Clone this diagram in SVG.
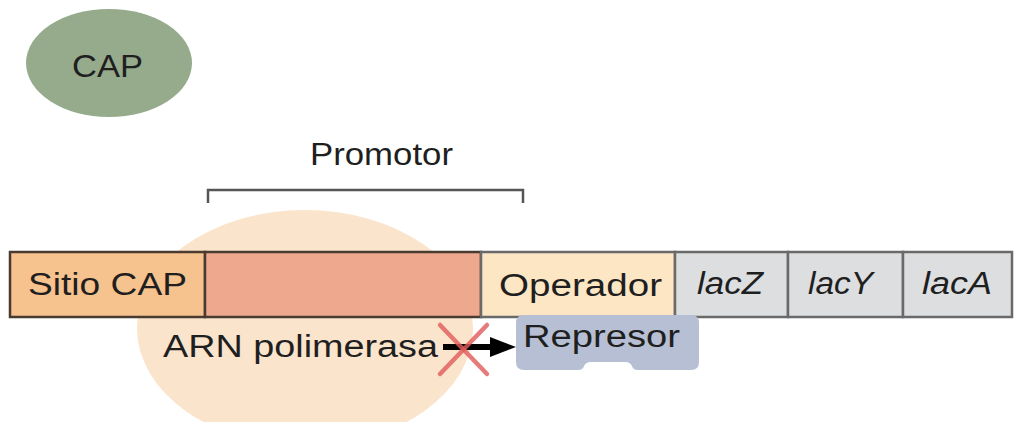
<svg xmlns="http://www.w3.org/2000/svg" width="1014" height="422" viewBox="0 0 1014 422">
<style>
text{font-family:"Liberation Sans",Arial,sans-serif;fill:#1f1f1f;font-size:31px}
.it{font-style:italic}
.seg{stroke-width:2.5}
.left{stroke:#4a3b30}
.right{stroke:#6a6a6a}
</style>
<rect width="1014" height="422" fill="#fff"/>
<g id="cap">
<ellipse cx="109" cy="63" rx="83" ry="54" fill="#95ab8c"/>
<text x="72" y="77" font-size="35" fill="#1c261c" textLength="71" lengthAdjust="spacingAndGlyphs">CAP</text>
</g>
<g id="promotor">
<text x="310" y="165" font-size="29" textLength="143" lengthAdjust="spacingAndGlyphs">Promotor</text>
<path d="M208,203 V190 H523 V203" fill="none" stroke="#555" stroke-width="2.5"/>
</g>
<g id="arn-polimerasa">
<ellipse cx="305" cy="328" rx="168" ry="118" fill="#fbe4cc"/>
</g>
<g id="dna">
<g id="sitio-cap">
<rect x="10" y="252" width="195" height="65" fill="#f6c28e" class="seg left"/>
<text x="28" y="295" textLength="159" lengthAdjust="spacingAndGlyphs">Sitio CAP</text>
</g>
<g id="promotor-core">
<rect x="205" y="252" width="276" height="65" fill="#eda88e" class="seg left"/>
</g>
<g id="operador">
<rect x="481" y="252" width="194" height="65" fill="#fce6c3" class="seg right"/>
<text x="499" y="296" textLength="163" lengthAdjust="spacingAndGlyphs">Operador</text>
</g>
<g id="lacZ">
<rect x="675" y="252" width="113" height="65" fill="#dcdee0" class="seg right"/>
<text class="it" x="697" y="294" textLength="66" lengthAdjust="spacingAndGlyphs">lacZ</text>
</g>
<g id="lacY">
<rect x="788" y="252" width="115" height="65" fill="#dcdee0" class="seg right"/>
<text class="it" x="808" y="294" textLength="65" lengthAdjust="spacingAndGlyphs">lacY</text>
</g>
<g id="lacA">
<rect x="903" y="252" width="109" height="65" fill="#dcdee0" class="seg right"/>
<text class="it" x="922" y="294" textLength="70" lengthAdjust="spacingAndGlyphs">lacA</text>
</g>
</g>
<g id="arn-label">
<text x="163" y="357" font-size="32" textLength="275" lengthAdjust="spacingAndGlyphs">ARN polimerasa</text>
</g>
<g id="represor">
<path d="M524,315 H691 Q699,315 699,323 V362 Q699,370 691,370 H638 Q633,370 632,366 Q630,362 625,362 H591 Q586,362 584,366 Q583,370 578,370 H524 Q516,370 516,362 V323 Q516,315 524,315 Z" fill="#b7bfd4"/>
<text x="523" y="347" fill="#1a2233" textLength="157" lengthAdjust="spacingAndGlyphs">Represor</text>
</g>
<g id="connectors">
<line x1="443" y1="347" x2="494" y2="347" stroke="#000" stroke-width="6"/>
<polygon points="490,337 516,347 490,357" fill="#000"/>
<g id="blocked" stroke="#e05a5a" stroke-width="4.5" stroke-opacity="0.8" stroke-linecap="round">
<line x1="440" y1="325" x2="487" y2="374"/>
<line x1="487" y1="325" x2="440" y2="374"/>
</g>
</g>
</svg>
